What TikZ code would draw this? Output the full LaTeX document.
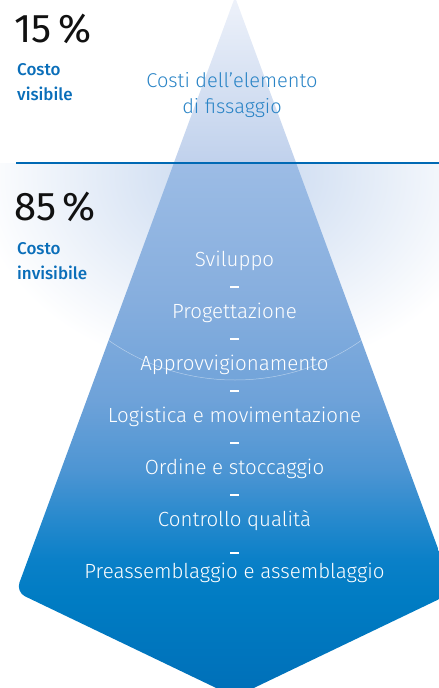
\documentclass[tikz,border=0pt]{standalone}
\usepackage{fontspec}
\setmainfont{Fira Sans}
\newfontfamily\lightsans{Fira Sans Light}
\newfontfamily\midsans{Fira Sans Medium}
\usetikzlibrary{matrix}

\definecolor{pctblack}{HTML}{111111}
\definecolor{labelblue}{HTML}{0A6EB9}
\definecolor{titleblue}{HTML}{2A84C6}
\definecolor{rulecol}{HTML}{0069B4}
\definecolor{glowblue}{HTML}{C6D7EF}
\definecolor{topA}{HTML}{EEF2FA}
\definecolor{topB}{HTML}{C0D1EC}
\definecolor{lowA}{HTML}{9CBCE5}
\definecolor{lowB}{HTML}{86AEDE}
\definecolor{lowC}{HTML}{6EA2D9}
\definecolor{lowD}{HTML}{4D95D3}
\definecolor{lowE}{HTML}{2689CD}
\definecolor{lowF}{HTML}{0A80C8}
\definecolor{lowG}{HTML}{007CC3}
\definecolor{lowH}{HTML}{006FB8}

\pgfdeclareverticalshading{lowergrad}{100bp}{color(0bp)=(lowH); color(25bp)=(lowH);
  color(31.93bp)=(lowG); color(34.79bp)=(lowF); color(37.64bp)=(lowE);
  color(41.21bp)=(lowD); color(46.21bp)=(lowC); color(53.36bp)=(lowB);
  color(63.14bp)=(lowA); color(75bp)=(lowA); color(100bp)=(lowA)}

\newcommand{\stepsep}{\raisebox{4pt}{\rule{9pt}{1.8pt}}}

\begin{document}
\begin{tikzpicture}[x=1pt,y=-1pt,
  pct/.style={anchor=base west, inner sep=0pt, text=pctblack,
    font=\fontsize{40}{40}\selectfont},
  costlabel/.style={anchor=base west, inner sep=0pt, align=left, text=labelblue,
    font=\midsans\fontsize{17}{24.5}\selectfont},
  stepitem/.style={inner sep=0pt, minimum height=26pt, text height=12pt,
    text depth=4pt, text=white, font=\lightsans\fontsize{20.5}{24}\selectfont}]
  \useasboundingbox (0,0) rectangle (439,688);
  \clip (0,0) rectangle (439,688);

  % glow below the water line
  \begin{scope}
    \clip (0,163) rectangle (439,688);
    \shade[inner color=glowblue, outer color=white] (235,175) ellipse [x radius=260, y radius=200];
  \end{scope}

  % visible tip
  \shade[top color=topA, bottom color=topB] (235,-3) -- (296.2,163) -- (173.8,163) -- cycle;

  % hidden part
  \begin{scope}
    \clip (0,163) rectangle (460,700);
    \clip[rounded corners=10pt] (235,-3) -- (454,592) -- (235,697) -- (16,592) -- cycle;
    \shade[shading=lowergrad] (0,-3) rectangle (460,697);
    \draw[white, opacity=0.45, line width=0.5pt] (235,170) ellipse [x radius=216, y radius=210];
  \end{scope}

  \draw[rulecol, line width=1.5pt] (16,163) -- (439,163);

  \node[pct] (vispct) at (14,42) {15\,\%};
  \node[costlabel] (vislabel) at (17,100) {Costo\\visibile};
  \node[pct] (invpct) at (14,220) {85\,\%};
  \node[costlabel] (invlabel) at (17,279) {Costo\\invisibile};
  \node[anchor=base, inner sep=0pt, align=center, text=titleblue,
    font=\lightsans\fontsize{20}{26}\selectfont] (tiptitle) at (232,113)
    {Costi dell’elemento\\di fissaggio};

  \matrix (steps) [matrix of nodes, row sep=0pt, inner sep=0pt,
    nodes={stepitem}] at (234.5,418)
  {
Sviluppo\\
\stepsep\\
Progettazione\\
\stepsep\\
Approvvigionamento\\
\stepsep\\
Logistica e movimentazione\\
\stepsep\\
Ordine e stoccaggio\\
\stepsep\\
Controllo qualità\\[6pt]
\stepsep\\[-6pt]
Preassemblaggio e assemblaggio\\
};
\end{tikzpicture}
\end{document}
